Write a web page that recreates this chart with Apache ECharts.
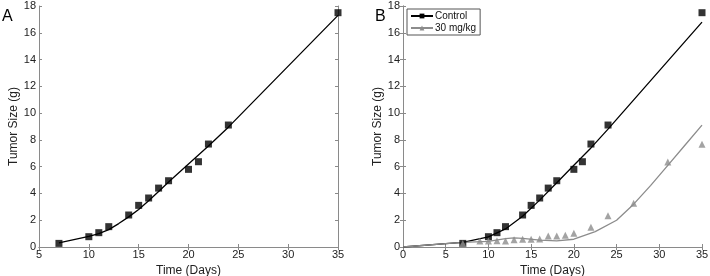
<!DOCTYPE html>
<html>
<head>
<meta charset="utf-8">
<script src="https://cdn.jsdelivr.net/npm/echarts@6/dist/echarts.min.js"></script>
<style>
  html, body { margin: 0; padding: 0; background: #fff; }
  #chart { width: 710px; height: 276px; }
</style>
</head>
<body>
<div id="chart"></div>
<script>
// measured tumor size (g)
const ctrlDays = [7, 10, 11, 12, 14, 15, 16, 17, 18, 20, 21, 22, 24, 35]
const ctrlVals = [0.27, 0.77, 1.07, 1.52, 2.39, 3.11, 3.66, 4.4, 4.95, 5.8, 6.37, 7.69, 9.11, 17.5]
const treatDays = [7, 9, 10, 11, 12, 13, 14, 15, 16, 17, 18, 19, 20, 22, 24, 27, 31, 35]
const treatVals = [0.27, 0.45, 0.45, 0.47, 0.45, 0.55, 0.57, 0.58, 0.6, 0.82, 0.82, 0.87, 1.02, 1.47, 2.34, 3.26, 6.35, 7.68]

// model fit curves
const fitDaysA = [7, 10, 11, 12, 13, 14, 15, 16, 17, 18, 20, 22, 24, 35]
const fitValsA = [0.3, 0.8, 1.0, 1.3, 1.75, 2.25, 2.8, 3.45, 4.15, 4.85, 6.2, 7.55, 8.95, 17.3]
const fitCtrlDaysB = [0, 5, 7, 10, 12, 14, 16, 18, 20, 22, 24, 35]
const fitCtrlValsB = [0, 0.25, 0.35, 0.75, 1.35, 2.3, 3.5, 4.8, 6.1, 7.4, 8.8, 16.8]
const fitTreatDays = [0, 5, 7, 10, 12, 13, 14, 16, 18, 20, 22.5, 25, 26, 27, 29, 31, 33, 35]
const fitTreatVals = [0, 0.25, 0.35, 0.42, 0.62, 0.68, 0.65, 0.52, 0.45, 0.58, 1.15, 2.0, 2.6, 3.2, 4.6, 6.1, 7.6, 9.1]

const xRangeA = [5, 35]
const xRangeB = [0, 35]
const yRange = [0, 18]

const pair = (xs, ys) => xs.map((x, i) => [x, ys[i]])

const axisGrey = '#8a8a8a'
const font = 'Liberation Sans, Arial, sans-serif'

function xAxes(grid, range) {
  const base = {
    type: 'value', gridIndex: grid, min: range[0], max: range[1], interval: 5,
    axisLine: { lineStyle: { color: axisGrey, width: 1 } },
    axisTick: { inside: true, length: 3, lineStyle: { color: axisGrey } },
    splitLine: { show: false },
  }
  return [
    {
      ...base, position: 'bottom',
      axisLabel: { color: '#222', fontSize: 11, fontFamily: font, margin: 2 },
      name: 'Time (Days)', nameLocation: 'middle', nameGap: 17,
      nameTextStyle: { color: '#222', fontSize: 12, fontFamily: font },
    },
    { ...base, position: 'top', axisLabel: { show: false } },
  ]
}

function yAxes(grid) {
  const base = {
    type: 'value', gridIndex: grid, min: yRange[0], max: yRange[1], interval: 2,
    axisLine: { show: true, lineStyle: { color: axisGrey, width: 1 } },
    axisTick: { show: true, inside: true, length: 3, lineStyle: { color: axisGrey } },
    splitLine: { show: false },
  }
  return [
    {
      ...base, position: 'left',
      axisLabel: { color: '#222', fontSize: 11, fontFamily: font, margin: 3 },
      name: 'Tumor Size (g)', nameLocation: 'middle', nameGap: 16,
      nameTextStyle: { color: '#222', fontSize: 12, fontFamily: font },
    },
    { ...base, position: 'right', axisLabel: { show: false } },
  ]
}

const chart = echarts.init(document.getElementById('chart'))
chart.setOption({
  animation: false,
  backgroundColor: '#fff',
  title: [
    { text: 'A', left: 2, top: 9, padding: 0, textStyle: { fontSize: 16, fontWeight: 'normal', color: '#000', fontFamily: font } },
    { text: 'B', left: 375, top: 9, padding: 0, textStyle: { fontSize: 16, fontWeight: 'normal', color: '#000', fontFamily: font } },
  ],
  grid: [
    { left: 39, right: 372, top: 6, bottom: 29, outerBoundsMode: 'none' },
    { left: 403, right: 8, top: 6, bottom: 29, outerBoundsMode: 'none' },
  ],
  xAxis: [...xAxes(0, xRangeA), ...xAxes(1, xRangeB)],
  yAxis: [...yAxes(0), ...yAxes(1)],
  legend: {
    left: 407, top: 9, orient: 'vertical',
    data: ['Control', '30 mg/kg'],
    itemWidth: 22, itemHeight: 6, itemGap: 2,
    padding: [2, 4, 2, 3],
    borderColor: '#555', borderWidth: 1, borderRadius: 0,
    textStyle: { color: '#111', fontSize: 10, fontFamily: font, padding: [0, 0, 0, -3] },
  },
  series: [
    {
      type: 'line', xAxisIndex: 0, yAxisIndex: 0, data: pair(fitDaysA, fitValsA),
      showSymbol: false, symbol: 'none', lineStyle: { color: '#000', width: 1.3 }, z: 2,
    },
    {
      type: 'scatter', xAxisIndex: 0, yAxisIndex: 0, data: pair(ctrlDays, ctrlVals),
      symbol: 'rect', symbolSize: 7, itemStyle: { color: '#000' }, z: 3,
    },
    {
      name: 'Control', type: 'line', xAxisIndex: 2, yAxisIndex: 2, data: pair(fitCtrlDaysB, fitCtrlValsB),
      showSymbol: false, symbol: 'rect', symbolSize: 6,
      itemStyle: { color: '#000' }, lineStyle: { color: '#000', width: 1.3 }, z: 2,
    },
    {
      name: 'Control', type: 'scatter', xAxisIndex: 2, yAxisIndex: 2, data: pair(ctrlDays, ctrlVals),
      symbol: 'rect', symbolSize: 7, itemStyle: { color: '#000' }, z: 3,
    },
    {
      name: '30 mg/kg', type: 'line', xAxisIndex: 2, yAxisIndex: 2, data: pair(fitTreatDays, fitTreatVals),
      showSymbol: false, symbol: 'triangle', symbolSize: 6,
      itemStyle: { color: '#8c8c8c' }, lineStyle: { color: '#8c8c8c', width: 1.3 }, z: 2,
    },
    {
      name: '30 mg/kg', type: 'scatter', xAxisIndex: 2, yAxisIndex: 2, data: pair(treatDays, treatVals),
      symbol: 'triangle', symbolSize: 7, itemStyle: { color: '#8c8c8c' }, z: 4,
    },
  ],
})
</script>
</body>
</html>
